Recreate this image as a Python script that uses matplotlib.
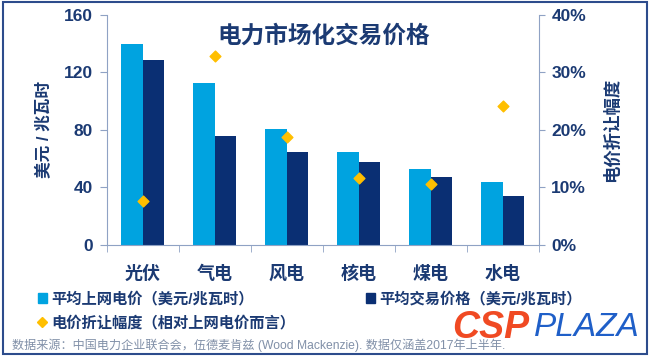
import matplotlib
matplotlib.use("Agg")
import matplotlib.pyplot as plt
import numpy as np
from matplotlib.lines import Line2D
from matplotlib.patches import Patch, Rectangle

plt.rcParams['font.family'] = ['Liberation Sans', 'Noto Sans CJK SC', 'DejaVu Sans']

categories = ['光伏', '气电', '风电', '核电', '煤电', '水电']
feed_in_price = [140, 113, 81, 65, 53, 44]
trade_price = [129, 76, 65, 58, 47, 34]
discount_pct = [7.6, 32.9, 18.8, 11.7, 10.6, 24.1]
left_ticks = [0, 40, 80, 120, 160]
right_ticks = [0, 10, 20, 30, 40]

LIGHT = '#00A3E0'
DARK = '#0A2F73'
GOLD = '#FFBF00'
TXT = '#1B3A73'
SPINE = '#8FA2C4'

fig = plt.figure(figsize=(6.5, 3.58), dpi=100)
ax = fig.add_axes([0.164, 0.316, 0.665, 0.642])
x = np.arange(len(categories))
w = 0.30
ax.bar(x - w / 2, feed_in_price, w, color=LIGHT, zorder=2)
ax.bar(x + w / 2, trade_price, w, color=DARK, zorder=2)
ax.set_xlim(-0.5, len(categories) - 0.5)
ax.set_ylim(0, 160)
ax.set_yticks(left_ticks)
ax.set_yticklabels([str(v) for v in left_ticks], fontsize=12.5, fontweight='bold', color=TXT)
ax.set_xticks(x)
ax.set_xticklabels(categories, fontsize=13, fontweight='bold', color=TXT)
ax.tick_params(axis='x', length=0, pad=15)
ax.set_xticks(np.arange(len(categories) + 1) - 0.5, minor=True)
ax.tick_params(axis='x', which='minor', length=5, color=SPINE, direction='out')
ax.tick_params(axis='y', length=5, color=SPINE, pad=5)
for s in ['top', 'right']:
    ax.spines[s].set_visible(False)
for s in ['left', 'bottom']:
    ax.spines[s].set_color(SPINE)
ax.set_ylabel('美元 / 兆瓦时', fontsize=12, fontweight='bold', color=TXT, labelpad=8)

ax2 = ax.twinx()
ax2.set_ylim(0, 40)
ax2.scatter(x, discount_pct, marker='D', s=30, color=GOLD, zorder=5)
ax2.set_yticks(right_ticks)
ax2.set_yticklabels([f'{v}%' for v in right_ticks], fontsize=12.5, fontweight='bold', color=TXT)
ax2.tick_params(axis='y', length=4, color=SPINE, pad=5)
for s in ['top', 'left', 'bottom']:
    ax2.spines[s].set_visible(False)
ax2.spines['right'].set_color(SPINE)
ax2.set_ylabel('电价折让幅度', fontsize=12.5, fontweight='bold', color=TXT, rotation=90, labelpad=12)

fig.text(0.498, 0.898, '电力市场化交易价格', fontsize=17, fontweight='bold', color=TXT, ha='center', va='center')

handles = [Patch(color=LIGHT), Line2D([], [], marker='D', ls='none', color=GOLD, markersize=5), Patch(color=DARK)]
labels = ['平均上网电价（美元/兆瓦时）', '电价折让幅度（相对上网电价而言）', '平均交易价格（美元/兆瓦时）']
leg = fig.legend(handles, labels, ncol=2, loc='upper left', bbox_to_anchor=(0.058, 0.186),
                 bbox_transform=fig.transFigure, frameon=False, handlelength=0.6, handleheight=0.6,
                 handletextpad=0.3, columnspacing=4.6, labelspacing=0.6, borderaxespad=0,
                 borderpad=0, prop={'size': 11, 'weight': 'bold'})
for t in leg.get_texts():
    t.set_color(TXT)

fig.text(0.018, 0.036, '数据来源：中国电力企业联合会，伍德麦肯兹 (Wood Mackenzie). 数据仅涵盖2017年上半年.',
         fontsize=8.7, color='#8190A8', ha='left', va='center')

fig.text(0.695, 0.085, 'CSP', fontsize=27, fontweight='bold', style='italic', color='#F04A23',
         ha='left', va='center', zorder=10)
fig.text(0.822, 0.085, 'PLAZA', fontsize=24, style='italic', color='#1F5FC8', ha='left', va='center', zorder=10)

fig.patches.append(Rectangle((0.004, 0.012), 0.992, 0.982, transform=fig.transFigure, fill=False,
                             edgecolor='#2D4C8C', linewidth=1.5))

fig.savefig('out.png', dpi=100)
